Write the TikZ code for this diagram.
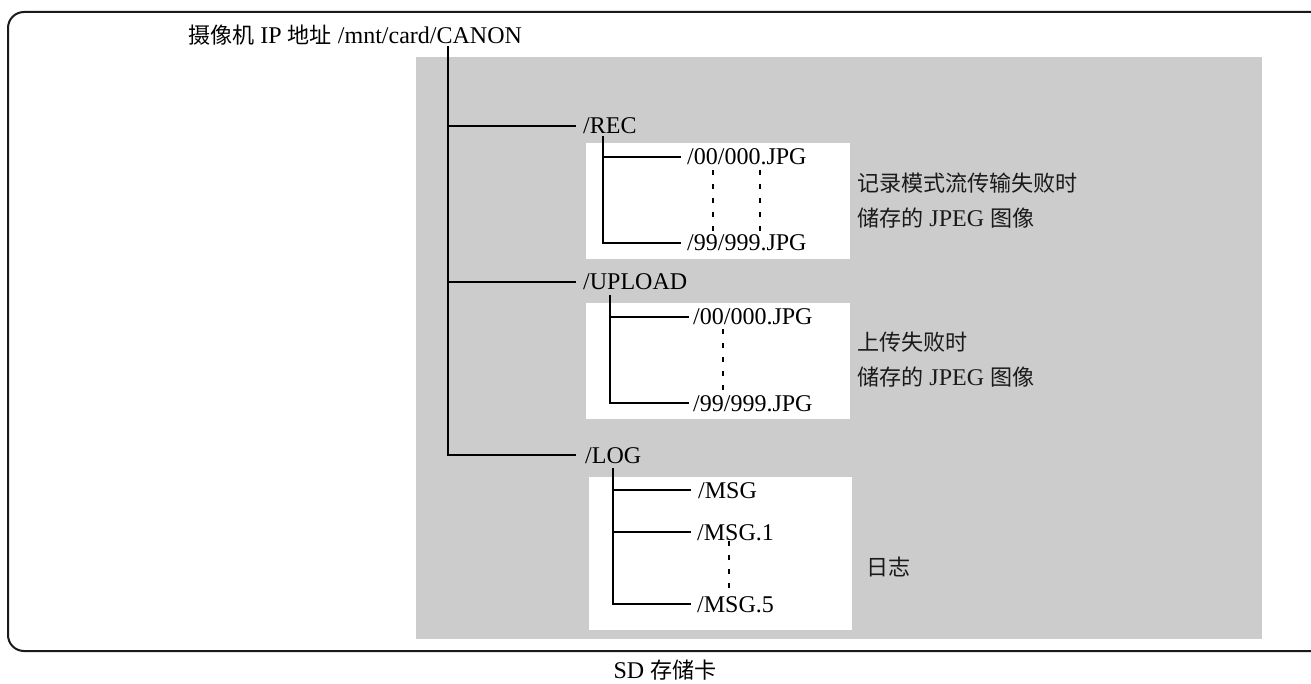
\documentclass[tikz,border=0pt]{standalone}
\usepackage{fontspec}
\setmainfont{Liberation Serif}
\newfontfamily\cjk[Scale=0.92]{Noto Sans CJK SC}
\newcommand{\zhtxt}[1]{{\cjk #1}}
\definecolor{panelgray}{HTML}{CCCCCC}
\definecolor{ink}{HTML}{1A1A1A}
\begin{document}
\begin{tikzpicture}[x=1pt,y=-1pt,
  tn/.style={inner sep=0pt, text height=16pt, text depth=0pt, anchor=west, font=\fontsize{24}{28}\selectfont},
  note/.style={inner sep=0pt, anchor=west, align=left, text=ink, font=\fontsize{24}{35}\selectfont},
  tl/.style={line width=2.2pt, line cap=rect},
  dl/.style={line width=2pt, dash pattern=on 5pt off 9pt},
  frame/.style={line width=2pt, draw=ink, rounded corners=16pt}]
\useasboundingbox (0,0) rectangle (1311,684);
% outer card outline (open to the right)
\draw[frame] (1312,12) -- (8,12) -- (8,651) -- (1312,651);
% grey panel and white boxes
\fill[panelgray] (416,57) rectangle (1262,639);
\fill[white] (586,143) rectangle (850,259);
\fill[white] (586,303) rectangle (850,419);
\fill[white] (589,477) rectangle (852,630);
% title
\node[anchor=west, inner sep=0pt, font=\fontsize{24}{28}\selectfont] (title) at (188,35) {\zhtxt{摄像机} IP \zhtxt{地址} /mnt/card/CANON};
\coordinate (t0) at (448,47);
% first level
\node[tn] (rec) at (583,126) {/REC};
\node[tn] (upl) at (583,282) {/UPLOAD};
\node[tn] (log) at (585,455) {/LOG};
\draw[tl] (t0) |- ([xshift=-10pt]log.west);
\draw[tl] (t0 |- rec.west) -- ([xshift=-8pt]rec.west);
\draw[tl] (t0 |- upl.west) -- ([xshift=-8pt]upl.west);
% REC subtree
\node[tn] (r00) at (687,157) {/00/000.JPG};
\node[tn] (r99) at (687,243) {/99/999.JPG};
\coordinate (r0) at (603,137);
\draw[tl] (r0) |- ([xshift=-7pt]r99.west);
\draw[tl] (r0 |- r00.west) -- ([xshift=-7pt]r00.west);
\draw[dl] (713,170) -- (713,232);
\draw[dl] (760,170) -- (760,232);
% UPLOAD subtree
\node[tn] (u00) at (693,317) {/00/000.JPG};
\node[tn] (u99) at (693,403) {/99/999.JPG};
\coordinate (u0) at (610,296);
\draw[tl] (u0) |- ([xshift=-5pt]u99.west);
\draw[tl] (u0 |- u00.west) -- ([xshift=-5pt]u00.west);
\draw[dl] (723,329) -- (723,390);
% LOG subtree
\node[tn] (m0) at (698,490) {/MSG};
\node[tn] (m1) at (697,532) {/MSG.1};
\node[tn] (m5) at (697,604) {/MSG.5};
\coordinate (l0) at (613,469);
\draw[tl] (l0) |- ([xshift=-7pt]m5.west);
\draw[tl] (l0 |- m0.west) -- ([xshift=-8pt]m0.west);
\draw[tl] (l0 |- m1.west) -- ([xshift=-7pt]m1.west);
\draw[dl] (729,541) -- (729,592);
% notes
\node[note] (n1) at (857,201) {\zhtxt{记录模式流传输失败时}\\\zhtxt{储存的} JPEG \zhtxt{图像}};
\node[note] (n2) at (857,360) {\zhtxt{上传失败时}\\\zhtxt{储存的} JPEG \zhtxt{图像}};
\node[note] (n3) at (866,567) {\zhtxt{日志}};
% caption
\node[inner sep=0pt, font=\fontsize{24}{28}\selectfont] (cap) at (665,670) {SD \zhtxt{存储卡}};
\end{tikzpicture}
\end{document}
